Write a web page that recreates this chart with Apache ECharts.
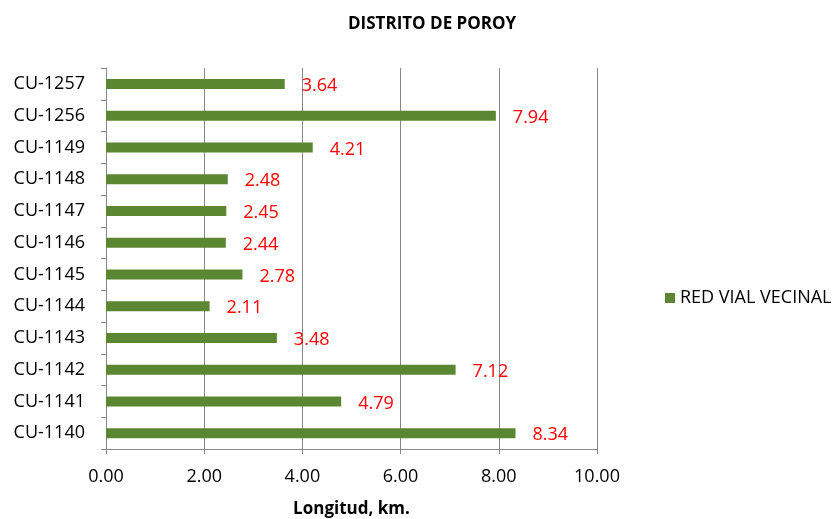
<!DOCTYPE html>
<html>
<head>
<meta charset="utf-8">
<script src="https://cdn.jsdelivr.net/npm/echarts@6/dist/echarts.min.js"></script>
<style>
  html, body { margin: 0; padding: 0; background: #fff; }
  #main { width: 837px; height: 519px; }
</style>
</head>
<body>
<div id="main"></div>
<script>
// categorias (de abajo hacia arriba)
var categorias = ['CU-1140', 'CU-1141', 'CU-1142', 'CU-1143', 'CU-1144', 'CU-1145',
	'CU-1146', 'CU-1147', 'CU-1148', 'CU-1149', 'CU-1256', 'CU-1257'];
// longitud en km
var longitudes = [8.34, 4.79, 7.12, 3.48, 2.11, 2.78, 2.44, 2.45, 2.48, 4.21, 7.94, 3.64];
var ejeX = [0, 2, 4, 6, 8, 10];

var chart = echarts.init(document.getElementById('main'));

var fuente = 'Open Sans, Liberation Sans, sans-serif';

var opt = {
	animation: false,
	textStyle: { fontFamily: fuente },
	title: {
		text: 'DISTRITO DE POROY',
		left: 343,
		top: 11,
		textStyle: { fontSize: 17, fontWeight: 'bold', color: '#000', fontFamily: fuente }
	},
	legend: {
		data: ['RED VIAL VECINAL'],
		icon: 'rect',
		left: 660,
		top: 284,
		itemWidth: 10,
		itemHeight: 10,
		itemGap: 5,
		textStyle: { fontSize: 18, color: '#000', fontFamily: fuente }
	},
	grid: {
		left: 106,
		right: 240,
		top: 68,
		bottom: 70,
		outerBoundsMode: 'none'
	},
	xAxis: {
		type: 'value',
		min: ejeX[0],
		max: ejeX[ejeX.length - 1],
		interval: 2,
		name: 'Longitud, km.',
		nameLocation: 'middle',
		nameGap: 52,
		nameTextStyle: { fontSize: 17, fontWeight: 'bold', color: '#000', fontFamily: fuente },
		axisLine: { show: true, lineStyle: { color: '#888', width: 1 } },
		axisTick: { show: true, length: 5, lineStyle: { color: '#888' } },
		axisLabel: {
			fontSize: 18,
			color: '#000',
			margin: 19,
			formatter: function (v) { return v.toFixed(2); }
		},
		splitLine: { show: true, lineStyle: { color: '#888', width: 1 } }
	},
	yAxis: {
		type: 'category',
		data: categorias,
		axisLine: { show: true, lineStyle: { color: '#888', width: 1 } },
		axisTick: { show: true, length: 5, lineStyle: { color: '#888' } },
		axisLabel: { fontSize: 18, color: '#000', margin: 21 }
	},
	series: [{
		name: 'RED VIAL VECINAL',
		type: 'bar',
		data: longitudes,
		barWidth: 10,
		itemStyle: { color: '#5b8733' },
		label: {
			show: true,
			position: 'right',
			distance: 17,
			offset: [0, 2],
			color: '#ff0000',
			fontSize: 18,
			fontFamily: fuente,
			formatter: function (p) { return p.value.toFixed(2); }
		}
	}]
};

chart.setOption(opt);
</script>
</body>
</html>
